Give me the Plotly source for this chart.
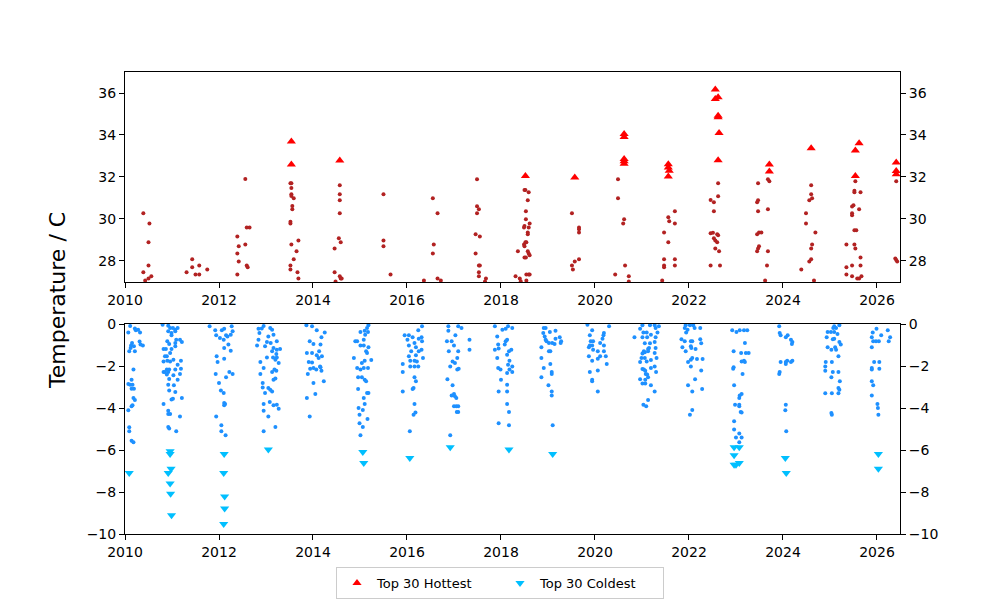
import plotly.graph_objects as go

# ---------------- data (decimal year, temperature °C) ----------------
hot_days = [
    (2010.39, 30.27), (2010.52, 29.79), (2010.50, 28.89), (2010.50, 27.79), (2010.39, 27.46),
    (2010.43, 27.07), (2010.50, 27.17), (2010.56, 27.27),
    (2011.43, 28.08), (2011.31, 27.46), (2011.43, 27.70), (2011.50, 27.36), (2011.58, 27.36),
    (2011.58, 27.79), (2011.75, 27.60),
    (2012.56, 31.91), (2012.59, 29.60), (2012.65, 29.60), (2012.39, 29.17), (2012.42, 28.70),
    (2012.56, 28.79), (2012.39, 28.36), (2012.42, 27.98), (2012.59, 27.79), (2012.61, 27.70),
    (2012.39, 27.36),
    (2013.52, 31.70), (2013.54, 31.70), (2013.54, 31.47), (2013.54, 31.18), (2013.54, 31.10),
    (2013.59, 30.99), (2013.56, 30.62), (2013.56, 30.46), (2013.52, 29.87), (2013.52, 29.79),
    (2013.54, 28.79), (2013.69, 28.98), (2013.65, 28.46), (2013.59, 28.08), (2013.52, 27.79),
    (2013.52, 27.60), (2013.67, 27.46), (2013.69, 27.17),
    (2014.57, 31.61), (2014.57, 31.18), (2014.57, 30.89), (2014.57, 30.27), (2014.55, 29.08),
    (2014.59, 28.89), (2014.46, 28.60), (2014.46, 27.46), (2014.57, 27.27), (2014.59, 27.17),
    (2014.61, 27.17), (2014.48, 27.02),
    (2015.50, 31.18), (2015.50, 28.98), (2015.50, 28.70), (2015.65, 27.36),
    (2016.55, 30.99), (2016.65, 30.27), (2016.57, 28.79), (2016.55, 28.36), (2016.36, 27.07),
    (2016.65, 27.17), (2016.72, 27.07),
    (2017.49, 31.89), (2017.49, 30.61), (2017.53, 30.46), (2017.49, 30.27), (2017.46, 29.27),
    (2017.55, 29.17), (2017.46, 28.36), (2017.53, 27.79), (2017.55, 27.79), (2017.53, 27.46),
    (2017.53, 27.27), (2017.68, 27.17), (2017.66, 27.02),
    (2018.31, 27.27), (2018.40, 27.17), (2018.42, 27.03), (2018.36, 28.46), (2018.50, 31.38),
    (2018.52, 31.38), (2018.59, 31.27), (2018.57, 30.89), (2018.53, 30.37), (2018.53, 29.99),
    (2018.50, 29.66), (2018.49, 29.60), (2018.59, 29.60), (2018.61, 29.79), (2018.57, 29.36),
    (2018.57, 29.27), (2018.52, 28.89), (2018.49, 28.79), (2018.54, 28.89), (2018.50, 28.70),
    (2018.57, 28.46), (2018.59, 28.36), (2018.61, 28.27), (2018.50, 28.17), (2018.53, 28.17),
    (2018.54, 27.36), (2018.59, 27.36), (2018.61, 27.36), (2018.54, 27.07),
    (2019.51, 30.27), (2019.66, 29.60), (2019.66, 29.51), (2019.66, 29.36), (2019.66, 28.08),
    (2019.57, 27.98), (2019.51, 27.79), (2019.53, 27.60),
    (2020.49, 31.89), (2020.49, 30.99), (2020.62, 29.99), (2020.60, 29.79), (2020.64, 27.79),
    (2020.43, 27.36), (2020.72, 27.27), (2020.72, 27.02),
    (2021.56, 30.08), (2021.58, 29.89), (2021.70, 30.37), (2021.70, 29.79), (2021.47, 29.36),
    (2021.56, 28.89), (2021.47, 28.08), (2021.47, 27.79), (2021.47, 27.70), (2021.70, 28.08),
    (2021.70, 27.79), (2021.43, 27.07),
    (2022.62, 31.70), (2022.62, 31.08), (2022.46, 30.91), (2022.53, 30.80), (2022.53, 30.37),
    (2022.46, 29.32), (2022.51, 29.35), (2022.60, 29.27), (2022.62, 29.22), (2022.53, 29.08),
    (2022.56, 28.98), (2022.60, 28.89), (2022.56, 28.60), (2022.64, 28.46), (2022.46, 27.79),
    (2022.66, 27.79),
    (2023.68, 31.89), (2023.71, 31.80), (2023.47, 31.70), (2023.47, 30.89), (2023.45, 30.80),
    (2023.47, 30.37), (2023.68, 30.46), (2023.49, 29.36), (2023.54, 29.36), (2023.45, 29.27),
    (2023.49, 28.70), (2023.47, 28.60), (2023.45, 28.46), (2023.68, 28.46), (2023.66, 27.79),
    (2023.62, 27.07),
    (2024.60, 31.61), (2024.60, 31.18), (2024.62, 30.99), (2024.56, 30.89), (2024.49, 30.27),
    (2024.49, 29.79), (2024.69, 29.36), (2024.62, 28.79), (2024.60, 28.60), (2024.60, 28.08),
    (2024.56, 27.98), (2024.39, 27.60), (2024.66, 27.07),
    (2025.54, 31.80), (2025.52, 31.35), (2025.52, 31.27), (2025.65, 31.27), (2025.50, 30.65),
    (2025.47, 30.60), (2025.62, 30.46), (2025.47, 30.27), (2025.47, 30.18), (2025.52, 29.46),
    (2025.56, 29.46), (2025.35, 28.79), (2025.52, 28.79), (2025.54, 28.60), (2025.65, 28.17),
    (2025.65, 27.79), (2025.47, 27.79), (2025.35, 27.70), (2025.35, 27.36), (2025.47, 27.27),
    (2025.58, 27.17), (2025.62, 27.17), (2025.67, 27.27),
    (2026.41, 31.80), (2026.39, 28.12), (2026.41, 28.05), (2026.43, 27.98),
]

hottest = [
    (2013.54, 33.69), (2013.54, 32.59), (2014.57, 32.78), (2018.52, 32.05), (2019.57, 31.97),
    (2020.62, 34.05), (2020.62, 33.90), (2020.62, 32.86), (2020.62, 32.75), (2020.62, 32.63),
    (2021.56, 32.61), (2021.56, 32.45), (2021.58, 32.30), (2021.56, 32.02),
    (2022.56, 36.17), (2022.56, 35.71), (2022.62, 35.80), (2022.62, 34.92), (2022.62, 34.84),
    (2022.64, 34.09), (2022.62, 32.80),
    (2023.71, 32.59), (2023.71, 32.26),
    (2024.60, 33.37),
    (2025.62, 33.61), (2025.54, 33.26), (2025.54, 32.05),
    (2026.41, 32.69), (2026.41, 32.28), (2026.41, 32.13),
]

cold_days = [
    # winter 2009/10
    (2010.11, -0.10), (2010.07, -0.40), (2010.21, -0.21), (2010.28, -0.27), (2010.32, -0.40),
    (2010.23, -0.30), (2010.15, -0.90), (2010.13, -1.02), (2010.12, -1.14), (2010.19, -1.06),
    (2010.09, -1.30), (2010.21, -1.30), (2010.31, -0.83), (2010.33, -0.98), (2010.38, -1.02),
    (2010.18, -2.17), (2010.14, -2.65), (2010.07, -2.86), (2010.11, -2.89), (2010.16, -2.89),
    (2010.14, -3.08), (2010.19, -3.08), (2010.18, -3.52), (2010.21, -3.62), (2010.16, -3.87),
    (2010.14, -3.92), (2010.07, -4.11), (2010.09, -4.92), (2010.09, -5.11), (2010.14, -5.56),
    (2010.18, -5.63),
    # winter 2010/11
    (2010.80, -0.03), (2010.92, -0.08), (2010.96, -0.19), (2011.02, -0.19), (2011.07, -0.27),
    (2011.12, -0.19), (2010.92, -0.35), (2010.99, -0.43), (2011.07, -0.35), (2010.99, -0.54),
    (2010.90, -0.82), (2011.09, -0.75), (2011.17, -0.75), (2011.21, -0.86), (2010.94, -0.95),
    (2011.07, -0.90), (2010.82, -1.19), (2010.87, -1.19), (2010.99, -1.19), (2011.07, -1.06),
    (2010.96, -1.38), (2010.85, -1.54), (2010.89, -1.54), (2011.03, -1.70), (2010.82, -1.78),
    (2010.90, -1.75), (2010.96, -1.78), (2011.19, -1.75), (2011.12, -1.94), (2010.89, -2.17),
    (2010.94, -2.17), (2011.07, -2.17), (2010.82, -2.29), (2010.85, -2.29), (2010.92, -2.29),
    (2011.19, -2.13), (2011.17, -2.38), (2010.89, -2.41), (2011.03, -2.44), (2010.94, -2.62),
    (2011.12, -2.65), (2010.92, -2.89), (2011.04, -2.92), (2010.94, -3.17), (2011.02, -3.56),
    (2010.99, -3.60), (2011.21, -3.52), (2011.07, -3.24), (2010.82, -3.81), (2010.92, -4.13),
    (2010.92, -4.29), (2010.96, -4.29), (2011.17, -4.40), (2010.92, -4.90), (2010.94, -4.98),
    (2011.09, -5.11),
    # winter 2011/12
    (2011.80, -0.11), (2011.92, -0.30), (2011.94, -0.54), (2012.06, -0.30), (2012.11, -0.22),
    (2012.15, -0.54), (2012.18, -0.59), (2012.27, -0.11), (2012.29, -0.35), (2012.25, -0.51),
    (2012.02, -0.67), (2012.10, -0.75), (2012.20, -0.98), (2012.11, -1.14), (2012.25, -1.27),
    (2011.95, -1.54), (2012.11, -1.65), (2011.97, -1.81), (2011.93, -2.38), (2012.22, -2.29),
    (2012.29, -2.38), (2012.15, -2.54), (2012.00, -2.81), (2012.04, -3.17), (2012.10, -3.29),
    (2012.11, -3.76), (2012.11, -3.87), (2012.13, -3.81), (2011.94, -4.40), (2012.05, -4.82),
    (2012.05, -5.11), (2012.14, -5.30),
    # winter 2012/13
    (2012.95, -0.10), (2012.84, -0.22), (2012.91, -0.21), (2013.09, -0.19), (2013.13, -0.27),
    (2012.86, -0.43), (2013.05, -0.59), (2013.16, -0.51), (2012.84, -0.75), (2012.81, -1.02),
    (2013.02, -0.86), (2013.10, -0.90), (2013.23, -0.82), (2012.98, -1.06), (2013.16, -1.14),
    (2013.23, -1.22), (2013.30, -1.19), (2013.13, -1.30), (2013.22, -1.43), (2012.88, -1.81),
    (2013.02, -1.59), (2013.15, -1.59), (2013.23, -1.59), (2013.20, -1.70), (2013.27, -1.86),
    (2012.95, -2.10), (2013.18, -2.17), (2013.13, -2.29), (2013.22, -2.22), (2012.88, -2.38),
    (2013.16, -2.65), (2013.20, -2.60), (2012.93, -2.81), (2012.93, -3.02), (2013.05, -3.05),
    (2013.09, -3.13), (2013.13, -3.21), (2012.98, -3.29), (2012.95, -3.81), (2013.08, -3.71),
    (2013.16, -3.87), (2013.23, -3.84), (2013.27, -4.03), (2012.95, -4.13), (2013.05, -4.40),
    (2013.20, -4.90), (2012.95, -5.11),
    # winter 2013/14
    (2013.86, -0.06), (2013.98, -0.11), (2013.93, -0.82), (2014.01, -0.95), (2014.16, -0.98),
    (2013.87, -1.38), (2013.98, -1.38), (2014.08, -1.49), (2013.91, -1.81), (2013.98, -1.83),
    (2014.12, -1.62), (2014.16, -2.06), (2014.01, -2.10), (2013.94, -2.13), (2013.89, -2.38),
    (2014.07, -2.17), (2014.01, -2.81), (2014.05, -3.33), (2013.87, -3.52), (2013.93, -4.40),
    (2014.08, -0.30), (2014.25, -0.40), (2014.18, -0.63), (2014.13, -1.30), (2014.19, -1.54),
    (2014.15, -2.02), (2014.18, -2.22), (2014.23, -2.73),
    # winter 2014/15
    (2015.18, -0.06), (2015.15, -0.19), (2015.10, -0.32), (2015.01, -0.38), (2015.17, -0.38),
    (2015.11, -0.51), (2014.90, -0.82), (2014.94, -0.82), (2015.08, -0.75), (2015.01, -1.02),
    (2015.08, -1.02), (2015.18, -1.11), (2015.13, -1.30), (2015.15, -1.38), (2014.87, -1.62),
    (2015.10, -1.75), (2015.24, -1.71), (2015.04, -1.86), (2014.94, -2.10), (2015.01, -2.17),
    (2015.08, -2.10), (2015.17, -2.10), (2014.96, -2.54), (2015.04, -2.54), (2015.10, -2.65),
    (2015.13, -2.73), (2014.96, -3.10), (2015.15, -3.29), (2015.18, -3.29), (2015.08, -3.52),
    (2015.10, -3.81), (2014.97, -4.00), (2015.06, -4.10), (2014.99, -4.32), (2015.16, -4.52),
    (2014.99, -4.73), (2015.06, -4.90), (2015.01, -5.30),
    # winter 2015/16
    (2015.95, -0.54), (2016.04, -0.54), (2016.12, -0.63), (2016.32, -0.11), (2016.24, -0.30),
    (2016.25, -0.70), (2016.31, -0.63), (2016.32, -0.82), (2016.01, -0.75), (2016.16, -0.90),
    (2016.04, -1.02), (2016.19, -1.11), (2016.09, -1.30), (2016.25, -1.30), (2016.31, -1.22),
    (2016.19, -1.49), (2016.04, -1.54), (2016.07, -1.75), (2016.16, -1.75), (2016.21, -1.78),
    (2016.34, -1.62), (2015.91, -1.90), (2016.07, -2.02), (2016.16, -2.02), (2016.24, -2.02),
    (2015.91, -2.29), (2016.16, -2.54), (2016.19, -2.73), (2016.14, -3.05), (2016.12, -3.10),
    (2015.91, -3.21), (2016.16, -3.81), (2016.14, -4.32), (2016.18, -4.21), (2016.06, -5.11),
    # winter 2016/17
    (2016.88, -0.11), (2016.88, -0.32), (2017.09, -0.11), (2017.16, -0.19), (2017.03, -0.54),
    (2016.85, -0.82), (2016.95, -0.82), (2017.33, -0.75), (2017.00, -1.02), (2016.89, -1.30),
    (2017.09, -1.30), (2017.33, -1.22), (2016.97, -1.78), (2017.07, -1.62), (2017.02, -1.86),
    (2016.92, -2.02), (2017.07, -2.17), (2017.10, -2.13), (2016.86, -2.63), (2016.97, -2.92),
    (2016.95, -3.40), (2017.00, -3.33), (2017.02, -3.44), (2017.05, -3.52), (2017.00, -3.92),
    (2017.05, -3.92), (2017.09, -3.92), (2017.06, -4.19), (2017.09, -4.19), (2016.92, -5.30),
    # winter 2017/18
    (2017.87, -0.11), (2018.03, -0.27), (2018.10, -0.22), (2017.92, -0.59), (2017.87, -1.22),
    (2017.95, -1.17), (2017.94, -0.98), (2018.15, -0.11), (2018.24, -0.19), (2018.13, -0.75),
    (2018.10, -0.82), (2018.08, -0.98), (2018.17, -1.30), (2018.22, -1.22), (2017.92, -1.62),
    (2018.13, -1.46), (2018.18, -1.75), (2018.15, -1.94), (2017.94, -2.10), (2017.99, -2.17),
    (2018.24, -2.02), (2018.18, -2.17), (2018.13, -2.33), (2018.24, -2.29), (2018.00, -2.65),
    (2018.13, -2.89), (2017.95, -3.21), (2018.13, -3.21), (2018.13, -3.81), (2018.17, -4.19),
    (2017.95, -4.73), (2018.17, -4.82),
    # winter 2018/19
    (2018.91, -0.19), (2018.95, -0.19), (2018.90, -0.43), (2018.93, -0.59), (2019.04, -0.38),
    (2019.16, -0.32), (2018.95, -0.75), (2018.97, -0.82), (2019.02, -0.90), (2019.09, -0.90),
    (2019.14, -0.95), (2019.16, -0.70), (2019.25, -0.63), (2019.28, -0.82), (2019.27, -0.90),
    (2018.86, -1.11), (2019.02, -1.30), (2019.05, -1.30), (2018.86, -1.62), (2019.05, -1.90),
    (2018.91, -2.10), (2019.08, -2.29), (2019.08, -2.38), (2018.86, -2.54), (2019.01, -2.92),
    (2019.08, -3.21), (2019.08, -3.40), (2019.10, -4.82),
    # winter 2019/20
    (2019.84, -0.03), (2020.30, -0.11), (2020.19, -0.43), (2020.18, -0.54), (2019.89, -0.54),
    (2019.94, -0.30), (2019.91, -0.82), (2019.96, -0.82), (2020.16, -0.70), (2020.11, -0.90),
    (2020.19, -1.02), (2019.89, -1.02), (2019.94, -1.02), (2019.87, -1.11), (2019.96, -1.22),
    (2020.06, -1.30), (2020.19, -1.30), (2019.87, -1.54), (2020.11, -1.54), (2020.23, -1.54),
    (2019.94, -1.75), (2020.06, -1.65), (2020.25, -1.90), (2020.06, -2.21), (2019.89, -2.29),
    (2019.94, -2.65), (2019.94, -2.73), (2020.06, -3.21),
    # winter 2020/21
    (2021.01, -0.06), (2021.17, -0.06), (2021.27, -0.06), (2021.36, -0.11), (2020.96, -0.22),
    (2021.29, -0.19), (2021.03, -0.40), (2021.10, -0.40), (2021.19, -0.51), (2021.33, -0.40),
    (2020.84, -0.63), (2021.01, -0.63), (2021.11, -0.63), (2021.29, -0.63), (2021.06, -0.92),
    (2021.17, -0.92), (2021.27, -0.86), (2021.15, -1.14), (2021.13, -1.19), (2021.29, -1.14),
    (2021.04, -1.30), (2021.01, -1.40), (2021.06, -1.35), (2021.13, -1.30), (2021.27, -1.38),
    (2020.99, -1.62), (2021.06, -1.62), (2021.19, -1.71), (2021.31, -1.62), (2020.96, -1.81),
    (2021.10, -1.78), (2021.01, -2.14), (2021.04, -2.17), (2021.07, -2.22), (2021.19, -2.10),
    (2021.27, -2.02), (2021.11, -2.41), (2021.08, -2.38), (2021.13, -2.54), (2021.07, -2.65),
    (2021.30, -2.29), (2020.96, -2.63), (2021.01, -2.83), (2021.07, -2.83), (2021.19, -2.92),
    (2021.27, -3.21), (2021.13, -3.62), (2021.03, -3.84), (2021.09, -3.92),
    # winter 2021/22
    (2021.93, -0.06), (2022.02, -0.06), (2022.12, -0.19), (2022.24, -0.19), (2021.91, -0.19),
    (2021.94, -0.40), (2021.97, -0.27), (2022.09, -0.06), (2021.84, -0.73), (2021.91, -0.82),
    (2022.04, -0.82), (2022.07, -0.82), (2022.26, -0.92), (2021.86, -1.11), (2021.93, -1.30),
    (2022.04, -1.06), (2022.05, -1.14), (2022.14, -1.19), (2022.24, -0.73), (2021.98, -1.81),
    (2022.04, -1.70), (2022.07, -1.62), (2022.17, -1.67), (2022.29, -1.67), (2022.04, -2.02),
    (2022.26, -2.21), (2022.13, -2.63), (2021.98, -2.92), (2022.28, -3.10), (2022.07, -3.21),
    (2022.07, -4.10), (2022.02, -4.32),
    # winter 2022/23
    (2022.92, -0.30), (2023.01, -0.38), (2023.08, -0.30), (2023.17, -0.30), (2023.24, -0.30),
    (2023.19, -0.90), (2022.95, -1.30), (2023.11, -1.38), (2023.21, -1.38), (2023.27, -1.38),
    (2023.12, -1.78), (2023.17, -1.75), (2023.19, -1.81), (2022.95, -2.06), (2022.94, -2.13),
    (2023.14, -2.38), (2022.96, -2.92), (2023.12, -3.33), (2023.08, -3.40), (2023.07, -3.52),
    (2022.98, -3.84), (2023.07, -3.84), (2023.07, -3.92), (2023.10, -4.19), (2023.12, -4.21),
    (2022.96, -4.63), (2022.96, -5.02), (2023.07, -5.21), (2023.00, -5.40), (2023.12, -5.40),
    (2023.07, -5.63),
    # winter 2023/24
    (2023.92, -0.11), (2023.93, -0.43), (2023.95, -0.54), (2024.06, -0.63), (2024.10, -0.54),
    (2024.17, -0.75), (2024.20, -0.86), (2024.19, -0.95), (2023.95, -1.81), (2024.06, -1.81),
    (2024.09, -1.75), (2024.06, -1.90), (2024.17, -1.81), (2024.20, -1.75), (2023.93, -2.29),
    (2023.92, -2.38), (2024.06, -3.84), (2024.05, -4.11), (2024.07, -5.11),
    # winter 2024/25
    (2025.09, -0.11), (2025.20, -0.06), (2025.07, -0.19), (2025.13, -0.19), (2024.95, -0.38),
    (2025.02, -0.38), (2025.09, -0.38), (2025.16, -0.48), (2024.93, -0.63), (2025.06, -0.73),
    (2025.09, -0.70), (2025.20, -0.86), (2025.23, -0.98), (2024.95, -1.11), (2025.03, -1.22),
    (2025.11, -1.11), (2025.13, -1.22), (2025.18, -1.54), (2024.91, -1.81), (2025.04, -1.81),
    (2024.90, -2.02), (2024.90, -2.22), (2025.06, -2.29), (2025.18, -2.29), (2025.03, -2.54),
    (2025.21, -2.73), (2025.18, -3.05), (2025.20, -3.13), (2024.90, -3.30), (2025.04, -3.30),
    (2025.18, -3.30), (2025.03, -4.24), (2025.04, -4.32),
    # winter 2025/26
    (2025.99, -0.22), (2026.23, -0.30), (2025.91, -0.40), (2026.09, -0.54), (2025.89, -0.63),
    (2025.92, -0.82), (2025.98, -0.82), (2026.04, -0.82), (2026.28, -0.63), (2026.25, -0.82),
    (2025.89, -1.11), (2025.94, -1.81), (2026.05, -1.81), (2025.89, -2.10), (2025.89, -2.17),
    (2026.05, -2.13), (2025.89, -2.73), (2025.92, -2.92), (2025.89, -3.40), (2026.01, -3.81),
    (2026.02, -4.00), (2026.03, -4.32),
]

coldest = [
    (2010.09, -7.10),
    (2010.96, -6.06), (2010.96, -6.19), (2010.98, -6.89), (2010.92, -7.10), (2010.96, -7.60),
    (2010.97, -8.08), (2010.99, -9.11),
    (2012.11, -6.19), (2012.10, -7.10), (2012.12, -8.21), (2012.12, -8.79), (2012.10, -9.52),
    (2013.05, -5.98),
    (2015.06, -6.10), (2015.08, -6.62),
    (2016.06, -6.38),
    (2016.92, -5.87),
    (2018.17, -5.98),
    (2019.10, -6.19),
    (2022.96, -5.87), (2023.07, -5.87), (2022.96, -6.25), (2022.96, -6.70), (2023.07, -6.62),
    (2023.00, -6.70),
    (2024.05, -6.38), (2024.07, -7.10),
    (2026.03, -6.19), (2026.03, -6.89),
]

year_ticks = [2010, 2012, 2014, 2016, 2018, 2020, 2022, 2024, 2026]
hot_ticks = [28, 30, 32, 34, 36]
cold_ticks = [0, -2, -4, -6, -8, -10]

# ---------------- figure ----------------
FONT = "DejaVu Sans"
TICKFONT = dict(family=FONT, size=14, color="black")

fig = go.Figure()


def unzip(pairs):
    return [p[0] for p in pairs], [p[1] for p in pairs]


hx, hy = unzip(hot_days)
tx, ty = unzip(hottest)
cx, cy = unzip(cold_days)
kx, ky = unzip(coldest)

fig.add_trace(go.Scatter(x=hx, y=hy, mode="markers", xaxis="x", yaxis="y",
                         marker=dict(color="#b22222", size=4, line_width=0),
                         showlegend=False, hoverinfo="skip"))
fig.add_trace(go.Scatter(x=tx, y=ty, mode="markers", xaxis="x", yaxis="y",
                         name="Top 30 Hottest",
                         marker=dict(color="#ff0000", symbol="triangle-up", size=8, line_width=0)))
fig.add_trace(go.Scatter(x=cx, y=cy, mode="markers", xaxis="x2", yaxis="y2",
                         marker=dict(color="#1e90ff", size=4, line_width=0),
                         showlegend=False, hoverinfo="skip"))
fig.add_trace(go.Scatter(x=kx, y=ky, mode="markers", xaxis="x2", yaxis="y2",
                         name="Top 30 Coldest",
                         marker=dict(color="#00bfff", symbol="triangle-down", size=8, line_width=0)))
# invisible traces to anchor the right-hand mirrored axes
fig.add_trace(go.Scatter(x=[None], y=[None], xaxis="x", yaxis="y3", showlegend=False, hoverinfo="skip"))
fig.add_trace(go.Scatter(x=[None], y=[None], xaxis="x2", yaxis="y4", showlegend=False, hoverinfo="skip"))

xcommon = dict(range=[2010, 2026.49], tickvals=year_ticks, ticktext=[str(v) for v in year_ticks],
               showline=True, linecolor="black", linewidth=1, mirror=True,
               ticks="outside", ticklen=5, tickwidth=1, tickcolor="black",
               showgrid=False, zeroline=False, tickfont=TICKFONT)
ycommon = dict(showline=True, linecolor="black", linewidth=1, mirror=True,
               ticks="outside", ticklen=5, tickwidth=1, tickcolor="black",
               showgrid=False, zeroline=False, tickfont=TICKFONT)

top_dom = [0.5455, 1.0]
bot_dom = [0.0, 0.4545]

fig.update_layout(
    width=1000, height=600,
    margin=dict(l=125, r=100, t=72, b=66, autoexpand=False),
    paper_bgcolor="white", plot_bgcolor="white",
    font=dict(family=FONT, size=14, color="black"),
    xaxis=dict(domain=[0, 1], anchor="y", **xcommon),
    yaxis=dict(domain=top_dom, anchor="x", range=[27, 37], tickvals=hot_ticks, **ycommon),
    xaxis2=dict(domain=[0, 1], anchor="y2", **xcommon),
    yaxis2=dict(domain=bot_dom, anchor="x2", range=[-10, 0], tickvals=cold_ticks, **ycommon),
    yaxis3=dict(overlaying="y", side="right", anchor="x", range=[27, 37], tickvals=hot_ticks,
                ticks="outside", ticklen=5, tickwidth=1, tickcolor="black",
                showgrid=False, zeroline=False, showline=False, tickfont=TICKFONT),
    yaxis4=dict(overlaying="y2", side="right", anchor="x2", range=[-10, 0], tickvals=cold_ticks,
                ticks="outside", ticklen=5, tickwidth=1, tickcolor="black",
                showgrid=False, zeroline=False, showline=False, tickfont=TICKFONT),
    legend=dict(orientation="h", x=0.5, xanchor="center", xref="container",
                y=1 - 567 / 600, yanchor="top", yref="container",
                bgcolor="white", bordercolor="#cccccc", borderwidth=1,
                font=dict(family=FONT, size=13, color="black"),
                entrywidth=118, entrywidthmode="pixels"),
    annotations=[dict(text="Temperature / C", xref="paper", yref="paper",
                      x=-0.0865, y=0.5065, xanchor="center", yanchor="middle",
                      textangle=-90, showarrow=False,
                      font=dict(family=FONT, size=22, color="black"))],
)

fig.write_html("out.html")
